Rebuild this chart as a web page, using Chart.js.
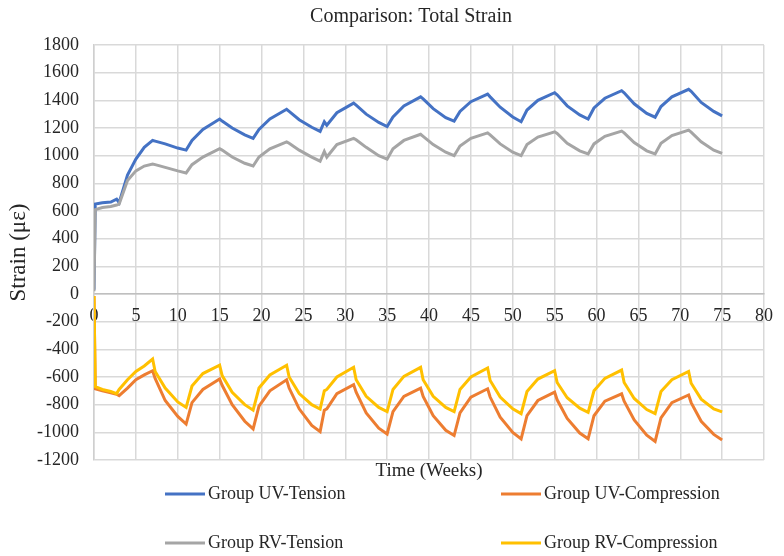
<!DOCTYPE html>
<html>
<head>
<meta charset="utf-8">
<title>Comparison: Total Strain</title>
<script src="https://cdn.jsdelivr.net/npm/chart.js@4/dist/chart.umd.min.js"></script>
<style>
    html, body { margin: 0; padding: 0; background: #fff; }
    #wrap { width: 784px; height: 556px; position: relative; }
</style>
</head>
<body>
<div id="wrap"><canvas id="strainChart" width="784" height="556"></canvas></div>
<script>
// Time axis (weeks), shared by all four gauges
const weeks = [
    0, 0.15, 1, 2, 2.7, 3, 4, 5, 6, 7,
    7.3, 8.5, 10, 11, 11.7, 13, 15,
    15.3, 16.5, 18, 19, 19.7, 21, 23,
    23.3, 24.5, 26, 27, 27.5, 27.8, 29, 31,
    31.3, 32.5, 34, 35, 35.7, 37, 39,
    39.3, 40.5, 42, 43, 43.7, 45, 47,
    47.3, 48.5, 50, 51, 51.7, 53, 55,
    55.3, 56.5, 58, 59, 59.7, 61, 63,
    63.3, 64.5, 66, 67, 67.7, 69, 71,
    71.3, 72.5, 74, 75
];

const uvTension = [
    30, 650, 660, 665, 685, 660, 860, 975, 1060, 1110,
    1105, 1085, 1055, 1040, 1110, 1190, 1265,
    1250, 1200, 1150, 1125, 1190, 1265, 1335,
    1320, 1260, 1205, 1175, 1245, 1220, 1310, 1380,
    1365, 1300, 1240, 1210, 1280, 1360, 1425,
    1410, 1340, 1275, 1250, 1320, 1390, 1445,
    1425, 1350, 1280, 1245, 1330, 1400, 1455,
    1440, 1360, 1295, 1265, 1345, 1415, 1470,
    1455, 1375, 1305, 1278, 1355, 1425, 1480,
    1465, 1385, 1320, 1288
];

const uvCompression = [
    -15, -685, -700, -715, -725, -735, -680, -620, -585, -555,
    -610, -770, -885, -940, -785, -690, -615,
    -660, -800, -920, -975, -810, -700, -620,
    -680, -830, -950, -995, -840, -830, -720, -655,
    -710, -860, -970, -1012, -850, -740, -680,
    -740, -880, -985, -1023, -860, -745, -685,
    -745, -890, -1000, -1047, -880, -770, -710,
    -765, -900, -1005, -1047, -880, -775, -722,
    -775, -910, -1020, -1066, -895, -785, -730,
    -785, -920, -1015, -1055
];

const rvTension = [
    20, 610, 625, 632, 643, 650, 820, 890, 925, 940,
    935, 915, 890, 875, 935, 990, 1050,
    1040, 990, 945, 925, 990, 1050, 1100,
    1090, 1040, 990, 960, 1030, 990, 1080, 1125,
    1115, 1060, 1000, 975, 1050, 1110, 1155,
    1140, 1080, 1025, 1000, 1070, 1125, 1165,
    1150, 1085, 1025, 1000, 1080, 1135, 1172,
    1160, 1090, 1035, 1012, 1085, 1140, 1178,
    1165, 1095, 1035, 1012, 1090, 1145, 1185,
    1170, 1100, 1040, 1017
];

const rvCompression = [
    -15, -670, -690, -705, -720, -690, -620, -560, -520, -470,
    -560, -680, -780, -820, -665, -575, -515,
    -590, -710, -800, -840, -680, -585, -515,
    -600, -720, -800, -832, -700, -690, -600, -530,
    -620, -740, -820, -850, -690, -595, -530,
    -620, -740, -820, -850, -690, -600, -535,
    -625, -745, -830, -865, -705, -615, -555,
    -640, -750, -825, -855, -700, -610, -550,
    -640, -755, -835, -865, -705, -620, -560,
    -645, -760, -830, -852
];

const seriesLabels = ['Group UV-Tension', 'Group UV-Compression', 'Group RV-Tension', 'Group RV-Compression'];
const seriesColors = ['#4472C4', '#ED7D31', '#A5A5A5', '#FFC000'];

const xMin = 0, xMax = 80, xStep = 5;
const yMin = -1200, yMax = 1800, yStep = 200;

const SERIF = '"Liberation Serif", "Times New Roman", serif';
const TEXT = '#262626';

function toPoints(values) {
    return values.map((v, i) => ({ x: weeks[i], y: v }));
}

// Title and the 2 x 2 legend under the axis title
const decorations = {
    id: 'decorations',
    afterDraw(chart) {
        const ctx = chart.ctx;
        ctx.save();
        ctx.fillStyle = TEXT;
        ctx.font = '20px ' + SERIF;
        ctx.textAlign = 'center';
        ctx.textBaseline = 'middle';
        ctx.fillText('Comparison: Total Strain', 411, 17);

        const cols = [165, 501];
        const rows = [494, 543];
        ctx.font = '18px ' + SERIF;
        ctx.textAlign = 'left';
        chart.data.datasets.forEach((ds, i) => {
            const x = cols[i % 2];
            const y = rows[Math.floor(i / 2)];
            ctx.strokeStyle = ds.borderColor;
            ctx.lineWidth = 3;
            ctx.beginPath();
            ctx.moveTo(x, y);
            ctx.lineTo(x + 40, y);
            ctx.stroke();
            ctx.fillStyle = TEXT;
            ctx.fillText(ds.label, x + 43, y);
        });
        ctx.restore();
    }
};

const seriesData = [uvTension, uvCompression, rvTension, rvCompression];

new Chart(document.getElementById('strainChart').getContext('2d'), {
    type: 'line',
    data: {
        datasets: seriesData.map((values, i) => ({
            label: seriesLabels[i],
            data: toPoints(values),
            borderColor: seriesColors[i],
            backgroundColor: seriesColors[i],
            borderWidth: 3,
            pointRadius: 0,
            tension: 0,
            fill: false,
            order: 4 - i
        }))
    },
    options: {
        responsive: false,
        animation: false,
        events: [],
        layout: { padding: { top: 45, right: 9, left: 0, bottom: 74 } },
        plugins: {
            legend: { display: false },
            title: { display: false },
            tooltip: { enabled: false }
        },
        scales: {
            x: {
                type: 'linear',
                position: { y: 0 },
                min: xMin,
                max: xMax,
                ticks: {
                    stepSize: xStep,
                    padding: 11,
                    color: TEXT,
                    font: { family: SERIF, size: 18 },
                    callback: v => String(v)
                },
                grid: { color: '#d9d9d9', lineWidth: 1.5, drawTicks: false },
                border: { color: '#bfbfbf', width: 1.5 }
            },
            x2: {
                type: 'linear',
                position: 'bottom',
                min: xMin,
                max: xMax,
                ticks: { display: false },
                grid: { display: false, drawTicks: false },
                border: { display: false },
                title: {
                    display: true,
                    text: 'Time (Weeks)',
                    color: TEXT,
                    font: { family: SERIF, size: 19 },
                    padding: { top: 0, bottom: 0 }
                },
                afterFit(scale) { scale.height = 22; }
            },
            y: {
                type: 'linear',
                min: yMin,
                max: yMax,
                ticks: {
                    stepSize: yStep,
                    padding: 15,
                    color: TEXT,
                    font: { family: SERIF, size: 18 },
                    callback: v => String(v)
                },
                grid: { color: '#d9d9d9', lineWidth: 1.5, drawTicks: false },
                border: { color: '#cfcfcf', width: 1.5 },
                title: {
                    display: true,
                    text: 'Strain (με)',
                    color: TEXT,
                    font: { family: SERIF, size: 23 },
                    padding: { top: 5, bottom: 0 }
                },
                afterFit(scale) { scale.width = 94; }
            }
        }
    },
    plugins: [decorations]
});
</script>
</body>
</html>
